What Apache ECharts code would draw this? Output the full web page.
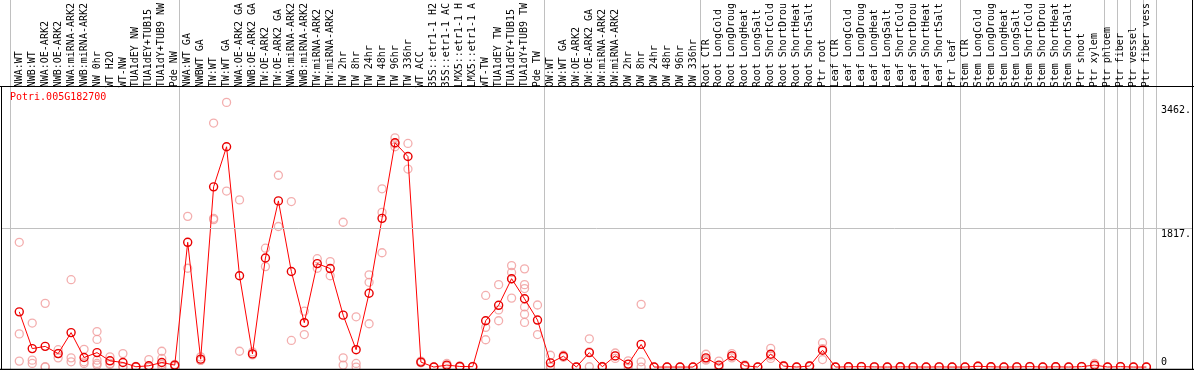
<!DOCTYPE html>
<html><head><meta charset="utf-8">
<script src="https://cdn.jsdelivr.net/npm/echarts@6/dist/echarts.min.js"></script>
<style>html,body{margin:0;padding:0;background:#fff}#c{width:1194px;height:370px}</style>
</head><body><div id="c"></div>
<script>
const geneName = 'Potri.005G182700';
const categories = [
  'NWA:WT','NWB:WT','NWA:OE-ARK2','NWB:OE-ARK2','NWA:miRNA-ARK2','NWB:miRNA-ARK2','NW 0hr','WT H2O','WT-NW','TUA1dEY NW','TUA1dEY+TUB15','TUA1dY+TUB9 NW','Pde NW',
  'NWA:WT GA','NWBWT GA','TW:WT','TW:WT GA','NWA:OE-ARK2 GA','NWB:OE-ARK2 GA','TW:OE-ARK2','TW:OE-ARK2 GA','NWA:miRNA-ARK2','NWB:miRNA-ARK2','TW:miRNA-ARK2','TW:miRNA-ARK2',
  'TW 2hr','TW 8hr','TW 24hr','TW 48hr','TW 96hr','TW 336hr','WT ACC','35S::etr1-1 H2','35S::etr1-1 AC','LMX5::etr1-1 H','LMX5::etr1-1 A','WT-TW','TUA1dEY TW','TUA1dEY+TUB15','TUA1dY+TUB9 TW','Pde TW',
  'OW:WT','OW:WT GA','OW:OE-ARK2','OW:OE-ARK2 GA','OW:miRNA-ARK2','OW:miRNA-ARK2','OW 2hr','OW 8hr','OW 24hr','OW 48hr','OW 96hr','OW 336hr',
  'Root CTR','Root LongCold','Root LongDroug','Root LongHeat','Root LongSalt','Root ShortCold','Root ShortDrou','Root ShortHeat','Root ShortSalt','Ptr root',
  'Leaf CTR','Leaf LongCold','Leaf LongDroug','Leaf LongHeat','Leaf LongSalt','Leaf ShortCold','Leaf ShortDrou','Leaf ShortHeat','Leaf ShortSalt','Ptr leaf',
  'Stem CTR','Stem LongCold','Stem LongDroug','Stem LongHeat','Stem LongSalt','Stem ShortCold','Stem ShortDrou','Stem ShortHeat','Stem ShortSalt','Ptr shoot','Ptr xylem',
  'Ptr phloem','Ptr fiber','Ptr vessel','Ptr fiber vess'
];
const groupStarts = [0, 13, 41, 53, 63, 73, 84, 85, 86, 87];
const meanValues = [
  734,245,275,179,458,127,192,83,61,4,17,61,26,
  1659,105,2397,2930,1214,175,1450,2210,1271,590,1376,1310,
  690,231,982,1978,2983,2800,66,0,26,8,5,616,821,1175,908,625,
  56,144,0,192,4,148,39,301,0,0,0,0,
  122,26,148,17,0,170,13,0,13,223,
  0,3,5,2,0,3,2,0,2,0,
  0,10,3,0,2,5,0,3,0,5,26,
  0,5,0,0
];
const replicateValues = [
  [1659,441,79],[585,92,48],[847,5,0],[231,180,122],[1162,122,70],[236,70,48],[472,367,92,48,26],[135,48,35],[179,5,0],[10,0,0],[100,0,0],[210,114,35,0],[35,20,10],
  [2004,1314],[135,92,88],[3245,1978,1961],[3520,2341],[2223,210],[201,162],[1581,1336],[2551,1869],[2201,354],[743,432],[1441,1314],[1402,1214],
  [1926,122,26],[668,48,0],[1227,1127,576],[2371,2057,1520],[3048,2970,2930],[2974,2633],[79,61,57],[0,0],[48,20,10],[15,5,3],[8,5,2],[952,528,363],[1096,760,616],[1349,1258,1170,917],[1306,1096,1044,799,703,593],[825,432],
  [157,10,0],[157,130],[0,0],[376,200,4],[8,2],[187,148,114],[83,35,0],[834,70,0],[0,0],[0,0],[0,0],[0,0],
  [170,105,92],[79,0,0],[179,148,122],[30,15,5],[0,0],[249,148,114],[20,13,5],[0,0],[20,13,5],[323,245,100],
  [0,0],[5,3,0],[8,5,2],[3,2,0],[0,0],[5,3,0],[3,2,0],[0,0],[3,2,0],[0,0],
  [0,0],[15,10,5],[5,3,0],[0,0],[3,2,0],[8,5,2],[0,0],[5,3,0],[0,0],[8,5,2],[48,20,10],
  [0,0],[8,5,2],[0,0],[0,0]
];
const yTickLabels = [1817, 3462];
const yZeroLabel = [0];
const gridLineValues = [1817];
const yMin = -26, yMax = 3681;

const repPoints = [];
replicateValues.forEach((reps, i) => reps.forEach(v => repPoints.push([i, v])));

const FONT = 'DejaVu Sans Mono';
const chart = echarts.init(document.getElementById('c'), null, {renderer: 'canvas'});
chart.setOption({
  animation: false,
  backgroundColor: '#fff',
  title: {
    text: geneName, left: 10, top: 92, padding: 0,
    textStyle: {fontFamily: FONT, fontSize: 10, fontWeight: 'normal', color: '#ff0000'}
  },
  grid: [
    {left: 10, width: 1146, top: 0, height: 369},
    {left: 12.8, width: 1144, top: 86, height: 283},
    {left: 1, width: 1191, top: 86, height: 283}
  ],
  xAxis: [
    {gridIndex: 0, type: 'category', data: categories, boundaryGap: true,
     axisLine: {show: false}, axisTick: {show: false}, axisLabel: {show: false},
     splitLine: {show: true, interval: (idx) => groupStarts.indexOf(idx) >= 0, lineStyle: {color: '#c0c0c0', width: 1}}},
    {gridIndex: 1, type: 'category', position: 'top', data: categories, boundaryGap: true,
     axisLine: {show: false}, axisTick: {show: false}, splitLine: {show: false},
     axisLabel: {interval: 0, rotate: 90, margin: 3, fontFamily: FONT, fontSize: 10, color: '#000'}},
    {gridIndex: 2, type: 'value', min: 0, max: 1, show: false}
  ],
  yAxis: [
    {gridIndex: 0, type: 'value', show: false},
    {gridIndex: 1, type: 'value', min: yMin, max: yMax, position: 'right',
     axisLine: {show: false}, axisTick: {show: false}, splitLine: {show: false},
     axisLabel: {customValues: yTickLabels, formatter: v => v + '.', verticalAlign: 'top', lineHeight: 8, margin: 8,
                 fontFamily: FONT, fontSize: 10, color: '#000'}},
    {gridIndex: 1, type: 'value', min: yMin, max: yMax, position: 'right',
     axisLine: {show: false}, axisTick: {show: false}, splitLine: {show: false},
     axisLabel: {customValues: yZeroLabel, formatter: v => String(v), verticalAlign: 'bottom', lineHeight: 10, margin: 8,
                 fontFamily: FONT, fontSize: 10, color: '#000'}},
    {gridIndex: 2, type: 'value', min: yMin, max: yMax, show: false}
  ],
  series: [
    {type: 'line', xAxisIndex: 2, yAxisIndex: 3, data: [], silent: true,
     markLine: {silent: true, symbol: 'none', label: {show: false}, animation: false,
                lineStyle: {color: '#c0c0c0', type: 'solid', width: 1},
                data: gridLineValues.map(v => ({yAxis: v}))}},
    {type: 'scatter', xAxisIndex: 1, yAxisIndex: 1, data: repPoints, symbol: 'circle', symbolSize: 8,
     itemStyle: {color: 'rgba(0,0,0,0)', borderColor: '#f09a9a', borderWidth: 1.3}, z: 3},
    {type: 'line', xAxisIndex: 1, yAxisIndex: 1, data: meanValues, symbol: 'circle', symbolSize: 8,
     showAllSymbol: true, lineStyle: {color: '#ff0000', width: 1},
     itemStyle: {color: 'rgba(0,0,0,0)', borderColor: '#e80000', borderWidth: 1.4}, z: 4}
  ],
  graphic: [
    {type: 'line', z: 100, shape: {x1: 0, y1: 86.5, x2: 1194, y2: 86.5}, style: {stroke: '#000', lineWidth: 1}},
    {type: 'line', z: 100, shape: {x1: 1.5, y1: 86, x2: 1.5, y2: 370}, style: {stroke: '#000', lineWidth: 1}},
    {type: 'line', z: 100, shape: {x1: 1192.5, y1: 0, x2: 1192.5, y2: 370}, style: {stroke: '#000', lineWidth: 1}},
    {type: 'line', z: 100, shape: {x1: 0, y1: 369.5, x2: 1194, y2: 369.5}, style: {stroke: '#000', lineWidth: 1.5}}
  ]
});
</script></body></html>
